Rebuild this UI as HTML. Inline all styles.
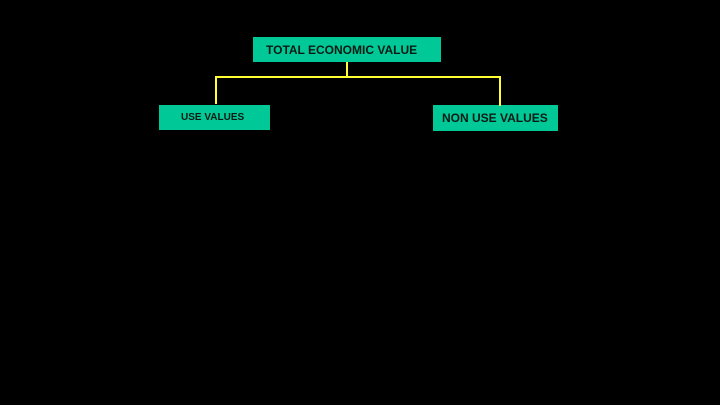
<!DOCTYPE html>
<html><head><style>
body{margin:0;width:720px;height:405px;background:#000;position:relative;overflow:hidden;font-family:"Liberation Sans",sans-serif;font-weight:bold;color:#0a1a14}
.b{position:absolute;background:#00c896;display:flex;align-items:center;box-sizing:border-box}
.l{position:absolute;background:#ffff33}
</style></head><body>
<div class="b" style="left:253px;top:37px;width:188px;height:25px;padding-left:13px;font-size:12px">TOTAL ECONOMIC VALUE</div>
<div class="b" style="left:159px;top:105px;width:111px;height:25px;padding-left:22px;font-size:10px">USE VALUES</div>
<div class="b" style="left:433px;top:105px;width:125px;height:26px;padding-left:9px;font-size:12px">NON USE VALUES</div>
<div class="l" style="left:346px;top:62px;width:2px;height:15px"></div>
<div class="l" style="left:215px;top:76px;width:286px;height:2px"></div>
<div class="l" style="left:215px;top:76px;width:2px;height:28px"></div>
<div class="l" style="left:499px;top:76px;width:2px;height:30px"></div>
</body></html>
